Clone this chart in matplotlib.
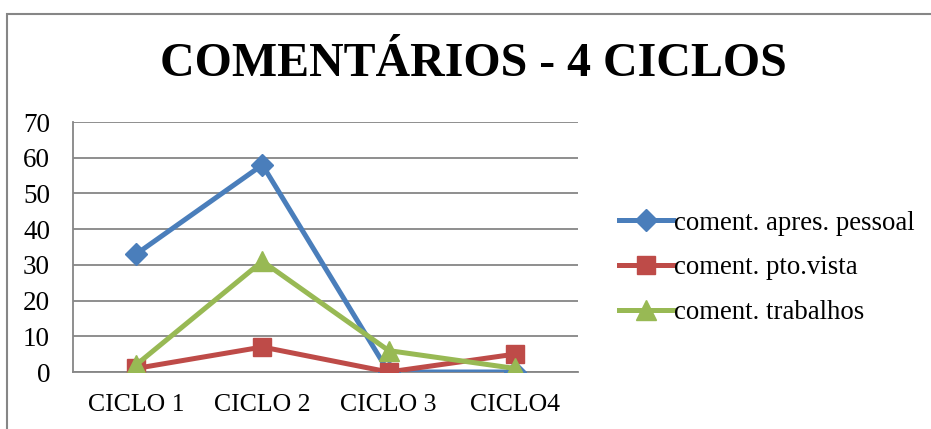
import matplotlib
matplotlib.use("Agg")
import matplotlib.pyplot as plt
from matplotlib.patches import Rectangle

categories = ["CICLO 1", "CICLO 2", "CICLO 3", "CICLO4"]
apres_pessoal = [33, 58, 0, 0]
pto_vista = [1, 7, 0, 5]
trabalhos = [2, 31, 6, 1]
series_names = ["coment. apres. pessoal", "coment. pto.vista", "coment. trabalhos"]
title = "COMENTÁRIOS - 4 CICLOS"
yticks = [0, 10, 20, 30, 40, 50, 60, 70]

plt.rcParams['font.family'] = ['Liberation Serif', 'DejaVu Serif']

W, H = 931, 429
fig = plt.figure(figsize=(W / 100, H / 100), dpi=100)
fig.patch.set_facecolor('white')

# outer chart border
fig.add_artist(Rectangle((7 / W, -0.05), 1.1, 1 - 14 / H + 0.05, transform=fig.transFigure,
                         fill=False, edgecolor='#868686', linewidth=1.5))

left, right, top, bottom = 73, 578, 122, 372
ax = fig.add_axes([left / W, 1 - bottom / H, (right - left) / W, (bottom - top) / H])

x = list(range(len(categories)))
ax.plot(x, apres_pessoal, color='#4A7EBB', lw=3.6, marker='D', ms=11, label=series_names[0], zorder=3)
ax.plot(x, pto_vista, color='#BE4B48', lw=3.6, marker='s', ms=13, label=series_names[1], zorder=3)
ax.plot(x, trabalhos, color='#98B954', lw=3.6, marker='^', ms=14, label=series_names[2], zorder=4)

ax.set_xlim(-0.5, 3.5)
ax.set_ylim(0, 70)
ax.set_yticks(yticks)
ax.set_xticks(x)
ax.set_xticklabels(categories)
ax.yaxis.grid(True, color='#868686', lw=1.3)
ax.set_axisbelow(True)
for s in ['top', 'right']:
    ax.spines[s].set_visible(False)
ax.spines['left'].set_color('#868686')
ax.spines['bottom'].set_color('#868686')
ax.spines['left'].set_linewidth(1.3)
ax.spines['bottom'].set_linewidth(1.3)
ax.tick_params(axis='both', length=0)
ax.tick_params(axis='y', pad=16.5, labelsize=19.5)
ax.tick_params(axis='x', pad=16, labelsize=18.5)

fig.text(473 / W, 1 - 64 / H, title, ha='center', va='center', fontsize=34.5, fontweight='bold')

leg = fig.legend(loc='center left', bbox_to_anchor=(595 / W, 1 - 268 / H), frameon=False,
                 fontsize=19.3, handlelength=2.0, handletextpad=0.05, labelspacing=0.74)

fig.savefig('out.png', dpi=100, facecolor='white')
